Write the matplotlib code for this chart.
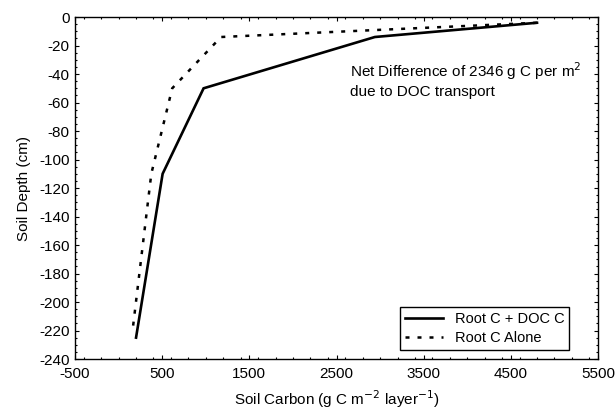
import matplotlib
matplotlib.use("Agg")
import matplotlib.pyplot as plt
from matplotlib.ticker import MultipleLocator

plt.rcParams["font.family"] = ["Liberation Sans", "DejaVu Sans"]
plt.rcParams["axes.unicode_minus"] = False

# Root C + DOC C (solid)
doc_carbon = [4800, 2940, 975, 505, 200]
doc_depth = [-4, -14, -50, -110, -225]

# Root C alone (dotted)
root_carbon = [4800, 1175, 615, 375, 160]
root_depth = [-4, -14, -50, -110, -220]

x_ticks = [-500, 500, 1500, 2500, 3500, 4500, 5500]
y_ticks = list(range(0, -241, -20))

fig = plt.figure(figsize=(6.16, 4.11), dpi=100)
ax = fig.add_axes([0.1218, 0.1265, 0.849, 0.832])

ax.plot(doc_carbon, doc_depth, color="black", lw=1.9,
        solid_joinstyle="miter", label="Root C + DOC C")
ax.plot(root_carbon, root_depth, color="black", lw=1.8,
        linestyle=(0, (1.6, 3.2)), label="Root C Alone")

ax.set_xlim(-500, 5500)
ax.set_ylim(-240, 0)
ax.set_xticks(x_ticks)
ax.set_yticks(y_ticks)
ax.xaxis.set_minor_locator(MultipleLocator(200))
ax.yaxis.set_minor_locator(MultipleLocator(5))
ax.tick_params(which="both", direction="in", top=True, right=True,
               labelsize=11, width=0.8)
ax.tick_params(which="major", length=3)
ax.tick_params(which="minor", length=1.5)
ax.tick_params(axis="x", which="major", pad=6)
ax.tick_params(axis="y", which="major", pad=4)
for s in ax.spines.values():
    s.set_linewidth(1.0)

ax.set_xlabel("Soil Carbon (g C m$^{-2}$ layer$^{-1}$)", fontsize=11, labelpad=5)
ax.set_ylabel("Soil Depth (cm)", fontsize=11, labelpad=6)

ax.text(2660, -44, "Net Difference of 2346 g C per m$^{2}$\ndue to DOC transport",
        fontsize=11, va="center", ha="left", linespacing=1.25)

leg = ax.legend(loc="lower right", bbox_to_anchor=(0.945, 0.026),
                borderaxespad=0, fancybox=False, fontsize=10.5,
                handlelength=2.6, framealpha=1, edgecolor="black",
                borderpad=0.35, labelspacing=0.35)
leg.get_frame().set_linewidth(1.0)

fig.savefig("out.png", dpi=100)
